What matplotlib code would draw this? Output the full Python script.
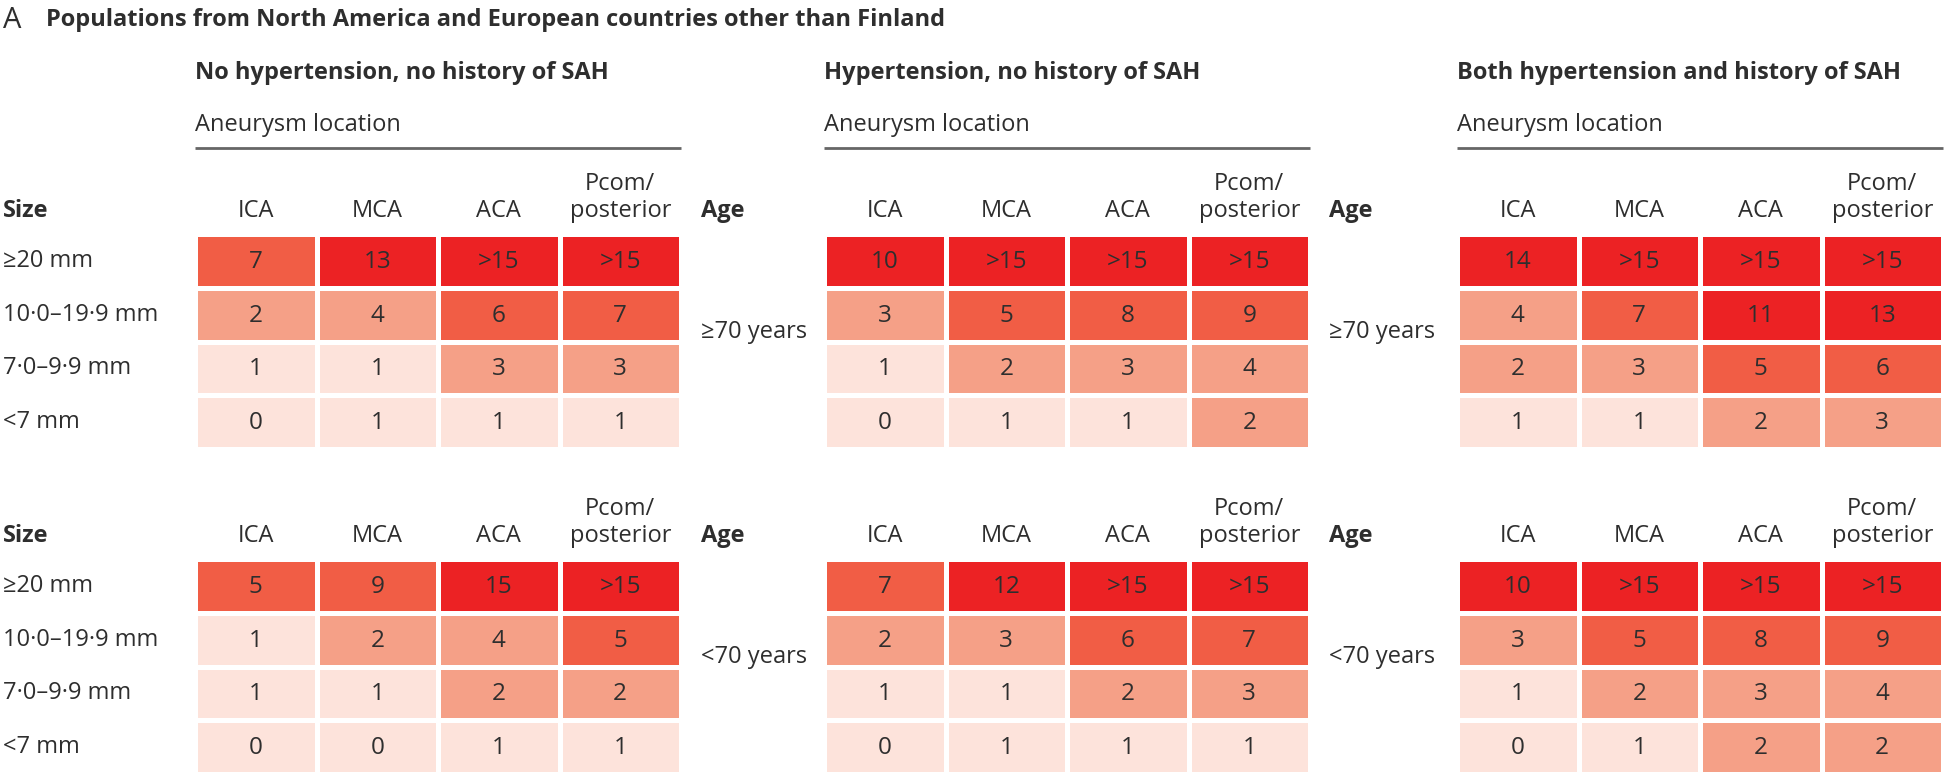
import matplotlib
matplotlib.use("Agg")
import matplotlib.pyplot as plt
import numpy as np
from matplotlib.colors import ListedColormap, BoundaryNorm
from matplotlib.transforms import blended_transform_factory

plt.rcParams['font.family'] = ['Open Sans', 'DejaVu Sans']

# ---------------- data ----------------
title_letter = "A"
title_text = "Populations from North America and European countries other than Finland"
panel_titles = ["No hypertension, no history of SAH",
                "Hypertension, no history of SAH",
                "Both hypertension and history of SAH"]
locations = ["ICA", "MCA", "ACA", "Pcom/\nposterior"]
sizes = ["≥20 mm", "10·0–19·9 mm", "7·0–9·9 mm", "<7 mm"]
age_groups = ["≥70 years", "<70 years"]

# rows = size (≥20 first), cols = location
old_no_htn = [["7", "13", ">15", ">15"], ["2", "4", "6", "7"], ["1", "1", "3", "3"], ["0", "1", "1", "1"]]
old_htn = [["10", ">15", ">15", ">15"], ["3", "5", "8", "9"], ["1", "2", "3", "4"], ["0", "1", "1", "2"]]
old_both = [["14", ">15", ">15", ">15"], ["4", "7", "11", "13"], ["2", "3", "5", "6"], ["1", "1", "2", "3"]]
young_no_htn = [["5", "9", "15", ">15"], ["1", "2", "4", "5"], ["1", "1", "2", "2"], ["0", "0", "1", "1"]]
young_htn = [["7", "12", ">15", ">15"], ["2", "3", "6", "7"], ["1", "1", "2", "3"], ["0", "1", "1", "1"]]
young_both = [["10", ">15", ">15", ">15"], ["3", "5", "8", "9"], ["1", "2", "3", "4"], ["0", "1", "2", "2"]]

grids = [[old_no_htn, old_htn, old_both], [young_no_htn, young_htn, young_both]]

colors = ["#fde3db", "#f5a087", "#f15d45", "#ec2224"]
bounds = [-0.5, 1.5, 4.5, 9.5, 100]


def to_num(s):
    return 16.0 if s.startswith(">") else float(s)


# ---------------- layout ----------------
W, H = 1946, 779
fig = plt.figure(figsize=(W / 100, H / 100), dpi=100)
txt_col = "#2e2e2e"
fs = 17
fs_num = 17.5

cmap = ListedColormap(colors)
norm = BoundaryNorm(bounds, cmap.N)

panel_x = [195, 824, 1457]
panel_w = 486
row_tops = [234, 559]
grid_h = 215
left_label_x = 3 / W
age_label_x = [701 / W, 1329 / W]

fig.text(3 / W, 1 - 20 / H, title_letter, fontsize=21, color=txt_col, va="center", ha="left")
fig.text(46 / W, 1 - 20 / H, title_text, fontsize=fs, fontweight="bold", color=txt_col,
         va="center", ha="left")

for r in range(2):
    for p in range(3):
        x0 = panel_x[p]
        y0 = row_tops[r]
        ax = fig.add_axes([x0 / W, 1 - (y0 + grid_h) / H, panel_w / W, grid_h / H])
        vals = grids[r][p]
        arr = np.array([[to_num(v) for v in row] for row in vals])
        ax.pcolormesh(np.arange(5), np.arange(5), arr, cmap=cmap, norm=norm,
                      edgecolors="white", linewidth=2.2)
        ax.set_xlim(0, 4)
        ax.set_ylim(4, 0)
        ax.axis("off")
        for i in range(4):
            for j in range(4):
                ax.text(j + 0.5, i + 0.52, vals[i][j], ha="center", va="center",
                        fontsize=fs_num, color=txt_col)
        # column headers
        for j, loc in enumerate(locations):
            ax.text(j + 0.5, -0.2, loc, ha="center", va="bottom", fontsize=fs,
                    color=txt_col, linespacing=1.2)
        if r == 0:
            ax.text(0, -3.0, panel_titles[p], ha="left", va="center", fontsize=fs,
                    fontweight="bold", color=txt_col)
            ax.text(0, -2.02, "Aneurysm location", ha="left", va="center", fontsize=fs,
                    color=txt_col)
            ax.plot([0, 4], [-1.6, -1.6], color="#666666", lw=2.0, clip_on=False,
                    solid_capstyle="butt")
        tr = blended_transform_factory(fig.transFigure, ax.transData)
        if p == 0:
            ax.text(left_label_x, -0.2, "Size", transform=tr, ha="left", va="bottom",
                    fontsize=fs, fontweight="bold", color=txt_col)
            for i, s in enumerate(sizes):
                ax.text(left_label_x, i + 0.5, s, transform=tr, ha="left", va="center",
                        fontsize=fs, color=txt_col)
        else:
            ax.text(age_label_x[p - 1], -0.2, "Age", transform=tr, ha="left", va="bottom",
                    fontsize=fs, fontweight="bold", color=txt_col)
            ax.text(age_label_x[p - 1], 1.82, age_groups[r], transform=tr, ha="left",
                    va="center", fontsize=fs, color=txt_col)

fig.savefig("out.png", dpi=100, facecolor="white")
